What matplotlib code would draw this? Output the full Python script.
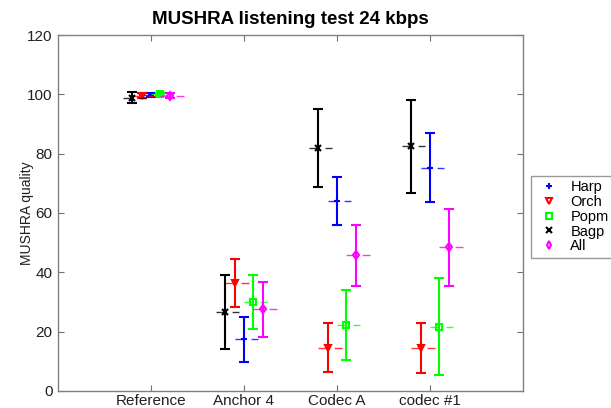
import numpy as np
import matplotlib
matplotlib.use('Agg')
import matplotlib.pyplot as plt

plt.rcParams['font.family'] = ['Liberation Sans', 'DejaVu Sans']

# conditions on the x axis
categories = ['Reference', 'Anchor 4', 'Codec A', 'codec #1']

# mean score and 95% confidence half-width per item
harp_mean = [99.8, 17.4, 64.0, 75.3]
harp_ci = [0.6, 7.7, 8.1, 11.7]
orch_mean = [99.5, 36.4, 14.6, 14.5]
orch_ci = [0.9, 8.1, 8.3, 8.4]
popm_mean = [100.0, 30.0, 22.3, 21.7]
popm_ci = [0.4, 9.2, 11.8, 16.3]
bagp_mean = [98.9, 26.6, 82.0, 82.5]
bagp_ci = [1.8, 12.6, 13.1, 15.6]
all_mean = [99.6, 27.6, 45.7, 48.5]
all_ci = [0.8, 9.3, 10.3, 13.0]

series = [
    ('Harp', harp_mean, harp_ci, (0, 0, 1), '+', 0.0),
    ('Orch', orch_mean, orch_ci, (1, 0, 0), 'v', -0.1),
    ('Popm', popm_mean, popm_ci, (0, 1, 0), 's', 0.1),
    ('Bagp', bagp_mean, bagp_ci, (0, 0, 0), 'x', -0.2),
    ('All', all_mean, all_ci, (1, 0, 1), 'd', 0.2),
]

fig = plt.figure(figsize=(6.11, 4.08), dpi=100)
ax = fig.add_axes([0.0949, 0.0417, 0.7611, 0.8725])

x = np.arange(1, len(categories) + 1)
handles = []
for name, m, ci, col, mk, off in series:
    xs = x + off
    # horizontal dashed mark through each mean
    ax.hlines(m, xs - 0.1, xs + 0.15, colors=[col], linewidth=1.0,
              linestyles=(0, (5.8, 5.8)), alpha=0.8)
    ax.errorbar(xs, m, yerr=ci, fmt='none', ecolor=col, elinewidth=1.5,
                capsize=3.5, capthick=1.5)
    h, = ax.plot(xs, m, linestyle='none', marker=mk, color=col,
                 markerfacecolor='none', markersize=4.5, markeredgewidth=1.5,
                 label=name)
    handles.append(h)

ax.set_xlim(0, 5)
ax.set_ylim(0, 120)
ax.set_xticks(x)
ax.set_xticklabels(categories)
ax.set_yticks(np.arange(0, 121, 20))
ax.tick_params(direction='in', top=True, right=True, length=4,
               color='#707070', labelsize=11, labelcolor='#202020')
ax.tick_params(axis='x', pad=2)
ax.tick_params(axis='y', pad=4)
for sp in ax.spines.values():
    sp.set_color('#808080')
    sp.set_linewidth(1.0)

ax.set_ylabel('MUSHRA quality', fontsize=10, color='#202020')
ax.yaxis.set_label_coords(-0.052, 0.5)
ax.set_title('MUSHRA listening test 24 kbps', fontsize=13.5, fontweight='bold', pad=8)

leg = ax.legend(handles=handles, loc='upper left', bbox_to_anchor=(1.017, 0.604),
                fontsize=10.5, frameon=True, fancybox=False, handlelength=1.9,
                handletextpad=0.5, borderpad=0.3, labelspacing=0.05,
                borderaxespad=0, markerscale=0.9)
leg.get_frame().set_edgecolor('#808080')
leg.get_frame().set_linewidth(1.0)

fig.savefig('out.png', dpi=100)
